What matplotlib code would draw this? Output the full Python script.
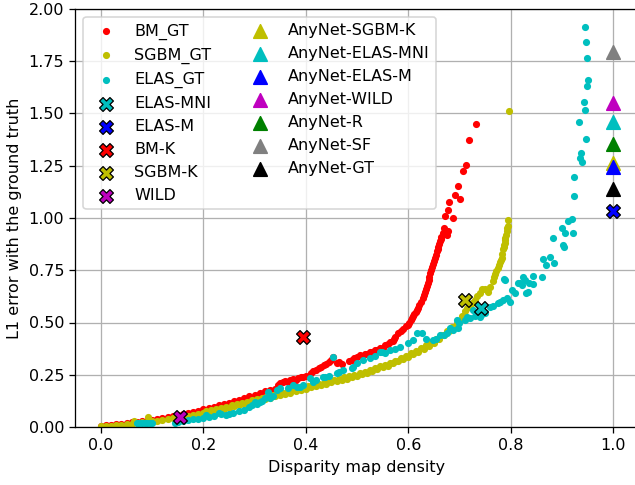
import matplotlib
matplotlib.use('Agg')
import matplotlib.pyplot as plt

# dense ground-truth sweeps (density, L1 error)
bm_x = [0.0, 0.01, 0.02, 0.03, 0.04, 0.05, 0.06, 0.07, 0.08, 0.09, 0.10, 0.11, 0.12, 0.13, 0.14, 0.15,
        0.16, 0.17, 0.18, 0.19, 0.20, 0.21, 0.22, 0.23, 0.24, 0.25, 0.26, 0.27, 0.28, 0.29, 0.30, 0.31,
        0.32, 0.33, 0.34, 0.345, 0.35, 0.355, 0.36, 0.365, 0.37, 0.375, 0.38, 0.385, 0.39, 0.395, 0.40,
        0.41, 0.415, 0.42, 0.425, 0.43, 0.435, 0.44, 0.445, 0.45, 0.453, 0.46, 0.465, 0.47,
        0.49, 0.495, 0.50, 0.51, 0.52, 0.53, 0.54, 0.55, 0.56, 0.57, 0.575, 0.58, 0.59, 0.60, 0.605,
        0.61, 0.615, 0.62, 0.625, 0.63, 0.635, 0.638, 0.641, 0.645, 0.648, 0.652, 0.656, 0.659, 0.662,
        0.665, 0.67, 0.675, 0.678, 0.672, 0.688, 0.678, 0.68, 0.691, 0.701, 0.698, 0.708, 0.712, 0.718, 0.732,
        0.485, 0.505, 0.515, 0.525, 0.535, 0.545, 0.555, 0.565, 0.572, 0.585, 0.595, 0.602, 0.608, 0.612,
        0.618, 0.622, 0.628, 0.632, 0.637, 0.64, 0.643, 0.647, 0.65, 0.654, 0.658, 0.661, 0.664, 0.668]
bm_y = [0.005, 0.008, 0.01, 0.013, 0.016, 0.019, 0.022, 0.025, 0.028, 0.031, 0.035, 0.039, 0.043, 0.047, 0.052, 0.057,
        0.062, 0.067, 0.072, 0.078, 0.084, 0.09, 0.096, 0.103, 0.11, 0.117, 0.124, 0.131, 0.139, 0.147, 0.155, 0.163,
        0.17, 0.176, 0.182, 0.2, 0.21, 0.215, 0.22, 0.215, 0.225, 0.23, 0.225, 0.235, 0.24, 0.24, 0.245,
        0.26, 0.27, 0.275, 0.28, 0.285, 0.295, 0.30, 0.31, 0.32, 0.335, 0.305, 0.31, 0.30,
        0.32, 0.33, 0.335, 0.34, 0.35, 0.36, 0.37, 0.38, 0.395, 0.41, 0.43, 0.45, 0.47, 0.49, 0.51,
        0.53, 0.55, 0.57, 0.60, 0.63, 0.66, 0.69, 0.72, 0.75, 0.78, 0.81, 0.84, 0.86, 0.89,
        0.91, 0.95, 0.92, 0.94, 1.01, 1.0, 1.04, 1.075, 1.11, 1.09, 1.155, 1.225, 1.254, 1.375, 1.45,
        0.315, 0.345, 0.35, 0.36, 0.37, 0.38, 0.39, 0.405, 0.42, 0.46, 0.485, 0.50, 0.52, 0.54,
        0.56, 0.585, 0.615, 0.645, 0.675, 0.705, 0.735, 0.765, 0.795, 0.825, 0.85, 0.875, 0.90, 0.93]

sgbm_x = [0.0, 0.01, 0.02, 0.03, 0.04, 0.05, 0.06, 0.065, 0.07, 0.08, 0.09, 0.092, 0.10, 0.11, 0.12, 0.13,
          0.14, 0.15, 0.16, 0.17, 0.18, 0.19, 0.20, 0.21, 0.22, 0.23, 0.24, 0.25, 0.26, 0.27, 0.28, 0.29,
          0.30, 0.31, 0.32, 0.33, 0.34, 0.35, 0.36, 0.37, 0.38, 0.39, 0.40, 0.41, 0.42, 0.43, 0.44, 0.45,
          0.46, 0.47, 0.48, 0.49, 0.50, 0.51, 0.52, 0.53, 0.54, 0.55, 0.56, 0.57, 0.58, 0.59, 0.60, 0.61,
          0.62, 0.63, 0.64, 0.65, 0.66, 0.67, 0.68, 0.69, 0.70, 0.705, 0.71, 0.72, 0.73, 0.74, 0.745, 0.756,
          0.76, 0.765, 0.77, 0.775, 0.78, 0.783, 0.786, 0.788, 0.789, 0.791, 0.792, 0.794, 0.795, 0.797,
          0.205, 0.215, 0.225, 0.235, 0.245, 0.255, 0.265, 0.275, 0.285, 0.295, 0.305, 0.315, 0.325, 0.335,
          0.345, 0.355, 0.365, 0.375, 0.385, 0.395, 0.405, 0.415, 0.425, 0.435, 0.445, 0.455, 0.465, 0.475,
          0.485, 0.495, 0.505, 0.515, 0.525, 0.535, 0.545, 0.555, 0.565, 0.575, 0.585, 0.595, 0.605, 0.615,
          0.625, 0.635, 0.645, 0.655, 0.665, 0.675, 0.685, 0.695, 0.715, 0.725, 0.735, 0.75, 0.768, 0.772,
          0.778, 0.781, 0.784, 0.787, 0.79, 0.793, 0.79]
sgbm_y = [0.003, 0.005, 0.007, 0.009, 0.011, 0.013, 0.015, 0.03, 0.02, 0.022, 0.025, 0.048, 0.028, 0.031, 0.034, 0.037,
          0.041, 0.045, 0.049, 0.053, 0.057, 0.061, 0.066, 0.071, 0.076, 0.081, 0.087, 0.093, 0.099, 0.105, 0.111, 0.117,
          0.123, 0.129, 0.135, 0.141, 0.147, 0.153, 0.159, 0.165, 0.171, 0.177, 0.183, 0.189, 0.195, 0.201, 0.207, 0.213,
          0.219, 0.225, 0.232, 0.239, 0.246, 0.253, 0.26, 0.268, 0.276, 0.285, 0.294, 0.304, 0.314, 0.325, 0.336, 0.348,
          0.36, 0.373, 0.388, 0.404, 0.42, 0.438, 0.458, 0.48, 0.505, 0.53, 0.555, 0.58, 0.61, 0.64, 0.66, 0.647,
          0.67, 0.70, 0.73, 0.76, 0.79, 0.81, 0.85, 0.87, 0.895, 0.92, 0.94, 0.96, 0.99, 1.51,
          0.076, 0.081, 0.086, 0.092, 0.098, 0.104, 0.110, 0.116, 0.122, 0.128, 0.134, 0.140, 0.146, 0.152,
          0.158, 0.164, 0.170, 0.176, 0.182, 0.188, 0.194, 0.200, 0.206, 0.212, 0.218, 0.224, 0.230, 0.237,
          0.244, 0.251, 0.258, 0.265, 0.273, 0.281, 0.29, 0.299, 0.308, 0.318, 0.329, 0.34, 0.352, 0.364,
          0.377, 0.39, 0.405, 0.421, 0.438, 0.457, 0.478, 0.50, 0.57, 0.595, 0.625, 0.66, 0.72, 0.745,
          0.775, 0.80, 0.83, 0.86, 0.905, 0.95, 0.88]

elas_x = [0.07, 0.075, 0.08, 0.085, 0.09, 0.095, 0.10, 0.145, 0.15, 0.16, 0.17, 0.18, 0.19, 0.20, 0.205, 0.21,
          0.22, 0.23, 0.235, 0.245, 0.25, 0.258, 0.27, 0.28, 0.29, 0.295, 0.30, 0.305, 0.31, 0.314, 0.32, 0.326,
          0.33, 0.335, 0.343, 0.35, 0.365, 0.375, 0.382, 0.389, 0.395, 0.408, 0.414, 0.42, 0.434, 0.4375, 0.445,
          0.453, 0.46, 0.464, 0.473, 0.49, 0.492, 0.50, 0.512, 0.525, 0.535, 0.545, 0.548, 0.555, 0.564, 0.575,
          0.584, 0.60, 0.61, 0.617, 0.626, 0.635, 0.648, 0.655, 0.662, 0.669, 0.675, 0.682, 0.688, 0.695, 0.698,
          0.70, 0.71, 0.714, 0.72, 0.727, 0.73, 0.735, 0.74, 0.745, 0.75, 0.76, 0.765, 0.776, 0.779, 0.785,
          0.788, 0.789, 0.792, 0.799, 0.802, 0.809, 0.815, 0.818, 0.822, 0.825, 0.828, 0.83, 0.834, 0.835,
          0.843, 0.844, 0.861, 0.863, 0.87, 0.877, 0.883, 0.885, 0.90, 0.903, 0.905, 0.906, 0.913, 0.919,
          0.921, 0.924, 0.924, 0.934, 0.936, 0.937, 0.939, 0.943, 0.945, 0.945, 0.947, 0.947, 0.95, 0.95, 0.951]
elas_y = [0.018, 0.02, 0.02, 0.02, 0.02, 0.02, 0.02, 0.02, 0.025, 0.03, 0.033, 0.036, 0.04, 0.045, 0.057, 0.05,
          0.052, 0.066, 0.06, 0.057, 0.06, 0.067, 0.075, 0.082, 0.095, 0.105, 0.12, 0.11, 0.12, 0.125, 0.14, 0.168,
          0.14, 0.15, 0.177, 0.187, 0.187, 0.2, 0.193, 0.193, 0.2, 0.233, 0.217, 0.225, 0.24, 0.24, 0.245,
          0.336, 0.258, 0.265, 0.273, 0.28, 0.288, 0.305, 0.32, 0.33, 0.34, 0.36, 0.36, 0.355, 0.368, 0.375,
          0.384, 0.40, 0.416, 0.448, 0.448, 0.42, 0.416, 0.42, 0.44, 0.44, 0.45, 0.472, 0.465, 0.512, 0.472,
          0.50, 0.51, 0.528, 0.52, 0.56, 0.53, 0.535, 0.528, 0.54, 0.545, 0.576, 0.58, 0.592, 0.60, 0.61,
          0.707, 0.703, 0.616, 0.60, 0.655, 0.643, 0.687, 0.687, 0.679, 0.719, 0.703, 0.64, 0.647, 0.69,
          0.722, 0.684, 0.719, 0.802, 0.775, 0.812, 0.903, 0.783, 0.954, 0.871, 0.863, 0.93, 0.986, 0.995,
          0.93, 1.198, 1.105, 1.459, 1.286, 1.31, 1.267, 1.553, 1.517, 1.915, 1.844, 1.38, 1.764, 1.632, 1.66]

# single methods (X markers)
x_names = ['ELAS-MNI', 'ELAS-M', 'BM-K', 'SGBM-K', 'WILD']
x_density = [0.743, 1.0, 0.395, 0.71, 0.154]
x_error = [0.568, 1.035, 0.432, 0.608, 0.046]
x_colors = ['c', 'b', 'r', 'y', 'm']

# AnyNet variants (triangles, all at full density)
tri_names = ['AnyNet-SGBM-K', 'AnyNet-ELAS-MNI', 'AnyNet-ELAS-M', 'AnyNet-WILD', 'AnyNet-R', 'AnyNet-SF', 'AnyNet-GT']
tri_density = [1.0, 1.0, 1.0, 1.0, 1.0, 1.0, 1.0]
tri_error = [1.262, 1.461, 1.245, 1.549, 1.354, 1.796, 1.137]
tri_colors = ['y', 'c', 'b', 'm', 'g', 'gray', 'k']

fig = plt.figure(figsize=(635 / 115, 485 / 115), dpi=115)
ax = fig.add_axes([75.4 / 635, 58 / 485, 563.2 / 635, 418 / 485])
ax.set_axisbelow(True)

ax.scatter(bm_x, bm_y, s=12, c='r', label='BM_GT')
ax.scatter(sgbm_x, sgbm_y, s=12, c='y', label='SGBM_GT')
ax.scatter(elas_x, elas_y, s=12, c='c', label='ELAS_GT')

for n, xx, yy, col in zip(x_names, x_density, x_error, x_colors):
    ax.scatter([xx], [yy], s=75, marker='X', c=col, edgecolors='k', linewidths=0.8, label=n)

for n, xx, yy, col in zip(tri_names, tri_density, tri_error, tri_colors):
    ax.scatter([xx], [yy], s=72, marker='^', c=col, label=n)

ax.set_xlim(-0.05, 1.05)
ax.set_ylim(0, 2.0)
ax.set_yticks([0, 0.25, 0.5, 0.75, 1.0, 1.25, 1.5, 1.75, 2.0])
ax.yaxis.set_major_formatter(matplotlib.ticker.FormatStrFormatter('%.2f'))
ax.grid(True)
ax.set_xlabel('Disparity map density')
ax.set_ylabel('L1 error with the ground truth')
ax.legend(loc='upper left', ncol=2)

fig.savefig('out.png', dpi=115)
